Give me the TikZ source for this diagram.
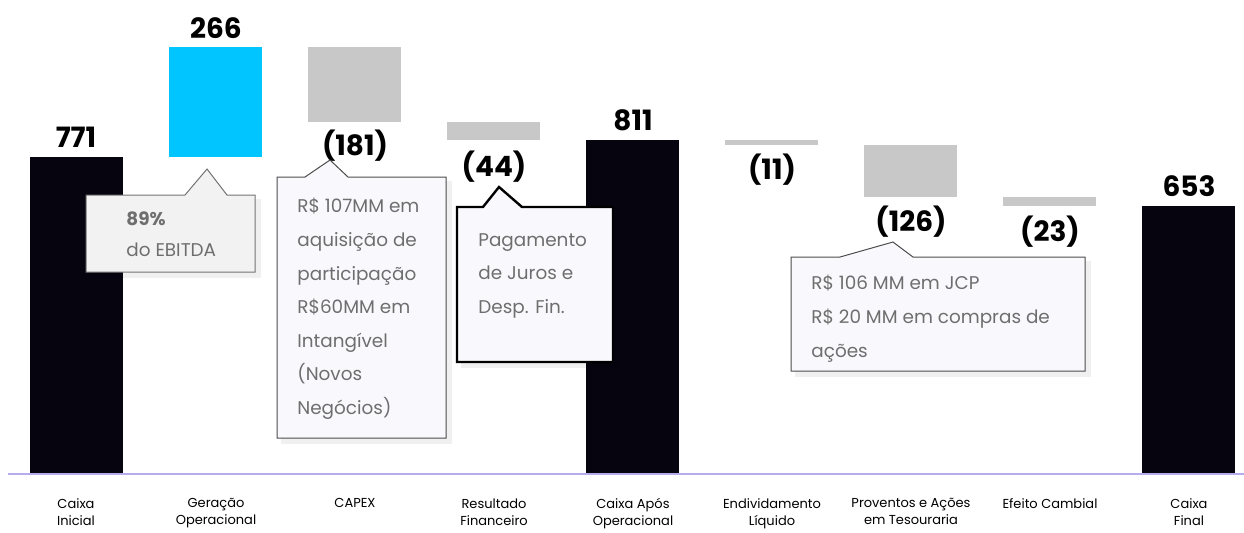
\documentclass[tikz,border=0pt]{standalone}
\usepackage{fontspec}
\setmainfont{Poppins}
\usepackage{xcolor}

\definecolor{barink}{HTML}{06040F}
\definecolor{barcyan}{HTML}{00C5FF}
\definecolor{bargrey}{HTML}{C8C8C8}
\definecolor{axisline}{HTML}{B4ACEC}
\definecolor{notefill}{HTML}{F9F8FD}
\definecolor{ebitdafill}{HTML}{F2F2F2}
\definecolor{notetext}{HTML}{6E6E6E}

\tikzset{
  valuelbl/.style={anchor=base, inner sep=0pt, font=\fontsize{14}{16}\selectfont\bfseries},
  axislbl/.style={anchor=north, inner sep=0pt, align=center, font=\fontsize{6.5}{8.6}\selectfont},
  notetxt/.style={anchor=north west, inner sep=0pt, align=left, text=notetext, font=\fontsize{9.2}{16.8}\selectfont},
  notebox/.style={draw=black!70, line width=0.5pt, fill=notefill},
  noteshadow/.style={fill=black, fill opacity=0.06, draw=none}
}

\begin{document}
\begin{tikzpicture}[x=0.5pt,y=0.5pt,yscale=-1,xscale=1]
        \useasboundingbox (0,0) rectangle (1244,532);

        %Shape: Bars
        \fill[barink]  (30,157) rectangle (123,474);
        \fill[barcyan] (169,47) rectangle (262,157);
        \fill[bargrey] (308,47) rectangle (401,122);
        \fill[bargrey] (447,122) rectangle (540,140);
        \fill[barink]  (586,140) rectangle (679,474);
        \fill[bargrey] (725,140) rectangle (818,145);
        \fill[bargrey] (864,145) rectangle (957,197);
        \fill[bargrey] (1003,197) rectangle (1096,206);
        \fill[barink]  (1142,206) rectangle (1235,474);

        %Shape: Axis line
        \draw[axisline, line width=1pt] (8,474) -- (1244,474);

        % Value Nodes
        \node[valuelbl] (vinicial) at (76,147) {771};
        \node[valuelbl] (vgeracao) at (216,38) {266};
        \node[valuelbl] (vcapex) at (355,155) {(181)};
        \node[valuelbl] (vresult) at (494,176) {(44)};
        \node[valuelbl] (vapos) at (633,130) {811};
        \node[valuelbl] (vendiv) at (772,179) {(11)};
        \node[valuelbl] (vprov) at (911,231) {(126)};
        \node[valuelbl] (vcambio) at (1050,241) {(23)};
        \node[valuelbl] (vfinal) at (1189,196) {653};

        %Shape: Callout 89%
        \fill[noteshadow] (90,199) rectangle (261,278);
        \draw[draw=black!55, line width=0.5pt, fill=ebitdafill] (86,195) -- (185,195) -- (207,169) -- (227,195) -- (255,195) -- (255,272) -- (86,272) -- cycle;
        % Text Node
        \node[notetxt, anchor=base west, font=\fontsize{9.2}{16.8}\selectfont\bfseries] (nebitda) at (126,225) {89\%};
        \node[notetxt, anchor=base west] (nebitdb) at (126,256) {do EBITDA};

        %Shape: Callout CAPEX
        \fill[noteshadow] (281,181) rectangle (452,444);
        \draw[notebox] (277,177) -- (305,177) -- (330,160) -- (348,177) -- (446,177) -- (446,438) -- (277,438) -- cycle;
        % Text Node
        \node[notetxt] (ncapex) at (297,198) {R\$ 107MM em\\aquisição de\\participação\\R\$60MM em\\Intangível\\(Novos\\Negócios)};

        %Shape: Callout Resultado
        \fill[noteshadow] (461,211) rectangle (619,368);
        \draw[draw=black, line width=1.2pt, fill=notefill] (457,207) -- (483,207) -- (499,187) -- (522,207) -- (613,207) -- (613,362) -- (457,362) -- cycle;
        % Text Node
        \node[notetxt] (nresult) at (478,233) {Pagamento\\de Juros e\\Desp. Fin.};

        %Shape: Callout Proventos
        \fill[noteshadow] (795,261) rectangle (1091,377);
        \draw[notebox] (791,257) -- (840,257) -- (893,242) -- (913,257) -- (1085,257) -- (1085,371) -- (791,371) -- cycle;
        % Text Node
        \node[notetxt] (nprov) at (811,275) {R\$ 106 MM em JCP\\R\$ 20 MM em compras de\\ações};

        % Axis Nodes
        \node[axislbl] (cinicial) at (76,498) {Caixa\\Inicial};
        \node[axislbl] (cgeracao) at (216,498) {Geração\\Operacional};
        \node[axislbl] (ccapex) at (355,498) {CAPEX};
        \node[axislbl] (cresult) at (494,498) {Resultado\\Financeiro};
        \node[axislbl] (capos) at (633,498) {Caixa Após\\Operacional};
        \node[axislbl] (cendiv) at (772,498) {Endividamento\\Líquido};
        \node[axislbl] (cprov) at (911,498) {Proventos e Ações\\em Tesouraria};
        \node[axislbl] (ccambio) at (1050,498) {Efeito Cambial};
        \node[axislbl] (cfinal) at (1189,498) {Caixa\\Final};

        \end{tikzpicture}
\end{document}
